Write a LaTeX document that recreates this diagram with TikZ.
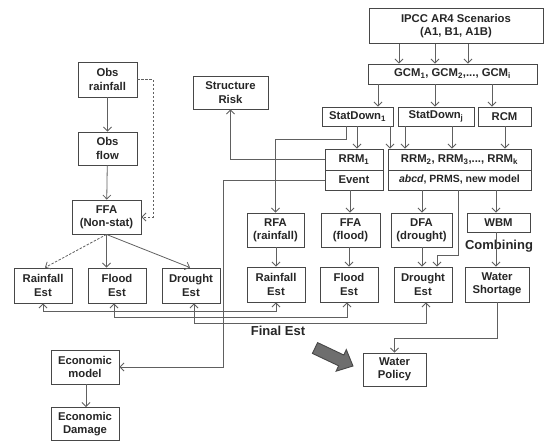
\documentclass[tikz,border=0pt]{standalone}
\usepackage{fontspec}
\setmainfont{Liberation Sans}
\usetikzlibrary{arrows.meta}
\definecolor{boxc}{HTML}{474747}
\definecolor{linec}{HTML}{606060}
\definecolor{txtc}{HTML}{262626}
\definecolor{bigarr}{HTML}{6E6E6E}
\tikzset{
  box/.style={draw=boxc, line width=0.9pt, fill=white, align=center, inner sep=0pt, text=txtc,
    font=\fontsize{11.3}{13.3}\selectfont\bfseries},
  arr/.style={draw=linec, line width=0.8pt, -{Straight Barb[length=4pt,width=8pt]}},
  darr/.style={arr, dashed, dash pattern=on 2.5pt off 1.5pt},
  barr/.style={draw=linec, line width=0.8pt, {Straight Barb[length=4pt,width=8pt]}-{Straight Barb[length=4pt,width=8pt]}},
  lbl/.style={inner sep=0pt, text=txtc, font=\fontsize{13}{15}\selectfont\bfseries}
}
\begin{document}
\begin{tikzpicture}[x=1pt,y=-1pt]
\useasboundingbox (0,0) rectangle (544,440);
% top chain
\node[box,minimum width=174,minimum height=35] (ipcc) at (456,26) {IPCC AR4 Scenarios\\(A1, B1, A1B)};
\node[box,minimum width=169,minimum height=20] (gcm) at (452.5,74) {GCM\textsubscript{1}, GCM\textsubscript{2},..., GCM\textsubscript{i}};
\node[box,minimum width=71,minimum height=19] (sd1) at (357.5,116.5) {StatDown\textsubscript{1}};
\node[box,minimum width=76,minimum height=19] (sdj) at (436,116.5) {StatDown\textsubscript{j}};
\node[box,minimum width=53,minimum height=19] (rcm) at (504.5,116.5) {RCM};
\node[box,minimum width=58,minimum height=21] (rrm1) at (354,159.5) {RRM\textsubscript{1}};
\node[box,minimum width=58,minimum height=20] (event) at (354,180) {Event};
\node[box,minimum width=143,minimum height=21] (rrm2) at (459.5,159.5) {RRM\textsubscript{2}, RRM\textsubscript{3},..., RRM\textsubscript{k}};
\node[box,minimum width=143,minimum height=20] (abcd) at (459.5,180) {\fontsize{10.5}{12}\selectfont\textit{abcd}, PRMS, new model};
\node[box,minimum width=75,minimum height=33] (srisk) at (230.5,92.5) {Structure\\Risk};
% left chain
\node[box,minimum width=59,minimum height=35] (obsr) at (107.5,79.5) {Obs\\rainfall};
\node[box,minimum width=59,minimum height=33] (obsf) at (107.5,148.5) {Obs\\flow};
\node[box,minimum width=69,minimum height=34] (ffans) at (106.5,217) {FFA\\(Non-stat)};
\node[box,minimum width=58,minimum height=35] (lrain) at (43,285.5) {Rainfall\\Est};
\node[box,minimum width=58,minimum height=35] (lflood) at (117,285.5) {Flood\\Est};
\node[box,minimum width=58,minimum height=35] (ldrought) at (191,285.5) {Drought\\Est};
% middle row
\node[box,minimum width=57,minimum height=34] (rfa) at (275.5,230) {RFA\\(rainfall)};
\node[box,minimum width=59,minimum height=34] (ffa) at (350.5,230) {FFA\\(flood)};
\node[box,minimum width=61,minimum height=34] (dfa) at (421.5,230) {DFA\\(drought)};
\node[box,minimum width=63,minimum height=19] (wbm) at (498.5,222.5) {WBM};
\node[box,minimum width=58,minimum height=35] (rrain) at (276,284.5) {Rainfall\\Est};
\node[box,minimum width=58,minimum height=35] (rflood) at (349,284.5) {Flood\\Est};
\node[box,minimum width=58,minimum height=35] (rdrought) at (423,284.5) {Drought\\Est};
\node[box,minimum width=64,minimum height=35] (wshort) at (497,284.5) {Water\\Shortage};
\node[box,minimum width=63,minimum height=33] (wpolicy) at (394.5,369.5) {Water\\Policy};
\node[box,minimum width=68,minimum height=34] (econ) at (85,367) {Economic\\model};
\node[box,minimum width=68,minimum height=33] (damage) at (85,424) {Economic\\Damage};
% labels
\node[lbl] (comb) at (499,246) {Combining};
\node[lbl] (fest) at (278,331) {Final Est};
% connectors top
\draw[arr] (ipcc.south -| 399,0) -- (gcm.north -| 399,0);
\draw[arr] (ipcc.south -| 435,0) -- (gcm.north -| 435,0);
\draw[arr] (ipcc.south -| 468,0) -- (gcm.north -| 468,0);
\draw[arr] (gcm.south -| 378,0) -- (sd1.north -| 378,0);
\draw[arr] (gcm.south -| 435,0) -- (sdj.north -| 435,0);
\draw[arr] (gcm.south -| 492,0) -- (rcm.north -| 492,0);
\draw[arr] (sd1.south -| 357,0) -- (rrm1.north -| 357,0);
\draw[arr] (sd1.south -| 390,0) -- (rrm2.north -| 390,0);
\draw[arr] (sd1.south -| 346,0) -- (346,139) -| (rfa.north);
\draw[arr] (sdj.south -| 405,0) -- (rrm2.north -| 405,0);
\draw[arr] (sdj.south -| 452,0) -- (rrm2.north -| 452,0);
\draw[arr] (rcm.south -| 505,0) -- (rrm2.north -| 505,0);
\draw[arr] (rrm1.west) -| (srisk.south);
\draw[arr] (event.west) -- (event.west -| 223,0) |- (econ.east);
\draw[arr] (event.south -| 350,0) -- (ffa.north -| 350,0);
\draw[arr] (abcd.south -| 422,0) -- (dfa.north -| 422,0);
\draw[arr] (abcd.south -| 458,0) -- (458,255) -| (rdrought.north -| 437,0);
\draw[arr] (abcd.south -| 496,0) -- (wbm.north -| 496,0);
\draw[arr] (wbm.south -| 496,0) -- (wshort.north -| 496,0);
\draw[arr] (rfa.south -| 276,0) -- (rrain.north -| 276,0);
\draw[arr] (ffa.south -| 349,0) -- (rflood.north -| 349,0);
\draw[arr] (dfa.south -| 422,0) -- (rdrought.north -| 422,0);
\draw[arr] (wshort.south) -- (wshort.south |- 0,338) -| (wpolicy.north);
% left connectors
\draw[arr] (obsr) -- (obsf);
\draw[arr] (obsf) -- (ffans);
\draw[darr] (obsr.east) -- (obsr.east -| 153,0) |- (ffans.east);
\draw[darr] (ffans.south) -- ([xshift=2pt]lrain.north);
\draw[arr] (ffans.south) -- (ffans.south |- lflood.north);
\draw[arr] (ffans.south) -- ([xshift=-1pt]ldrought.north);
\draw[arr] (econ.south -| 86,0) -- (damage.north -| 86,0);
% Est links
\coordinate (lr) at (lrain.south);
\coordinate (rr) at (rrain.south);
\coordinate (lf) at ([xshift=-3pt]lflood.south);
\coordinate (rf) at ([xshift=-2pt]rflood.south);
\coordinate (ld) at ([xshift=3pt]ldrought.south);
\coordinate (rd) at ([xshift=3pt]rdrought.south);
\draw[barr] (lr) -- (lr |- 0,311) -| (rr);
\draw[barr] (lf) -- (lf |- 0,317) -| (rf);
\draw[barr] (ld) -- (ld |- 0,323) -| (rd);
% big arrow
\fill[bigarr, draw=boxc, line width=0.9pt] (317.6,342.6) -- (343.8,355.0) -- (346.3,349.6) -- (353,366) -- (336.1,371.2) -- (338.6,365.8) -- (312.4,353.4) -- cycle;
\end{tikzpicture}
\end{document}
